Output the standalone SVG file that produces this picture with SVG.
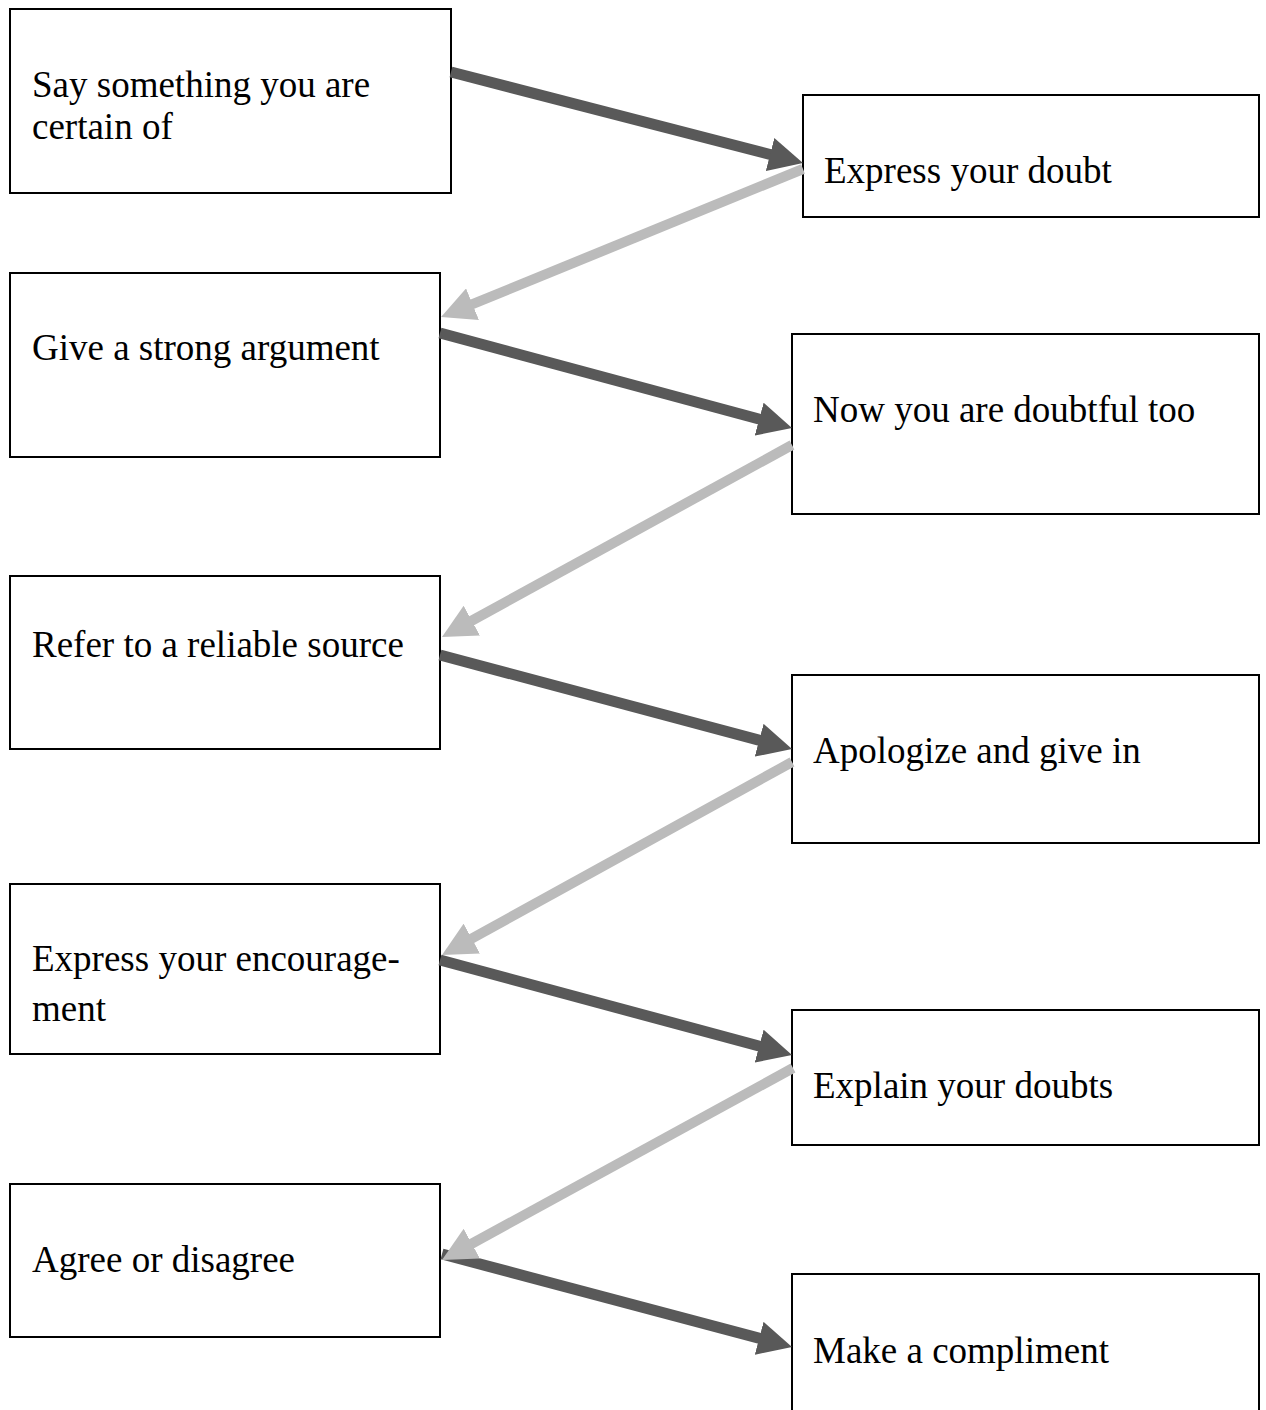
<svg xmlns="http://www.w3.org/2000/svg" width="1266" height="1410" viewBox="0 0 1266 1410">
<style>
  .box { fill: #ffffff; stroke: #000000; stroke-width: 2; }
  .lbl { font-family: "Liberation Serif", "Times New Roman", serif; font-size: 37px; fill: #000000; }
  .dark { stroke: #595959; stroke-width: 11; fill: none; marker-end: url(#headDark); }
  .light { stroke: #bbbbbb; stroke-width: 10; fill: none; marker-end: url(#headLight); }
</style>
<defs>
  <marker id="headDark" markerUnits="userSpaceOnUse" viewBox="0 0 34 34" markerWidth="34" markerHeight="34" refX="8" refY="17" orient="auto">
    <path d="M0,0 L34,17 L0,34 z" fill="#595959"/>
  </marker>
  <marker id="headLight" markerUnits="userSpaceOnUse" viewBox="0 0 34 34" markerWidth="34" markerHeight="34" refX="8" refY="17" orient="auto">
    <path d="M0,0 L34,17 L0,34 z" fill="#bbbbbb"/>
  </marker>
</defs>
<rect width="1266" height="1410" fill="#ffffff"/>

<g id="n1"><rect class="box" x="10" y="9" width="441" height="184"/><text class="lbl" x="32" y="97">Say something you are</text><text class="lbl" x="32" y="139">certain of</text></g>
<g id="n2"><rect class="box" x="803" y="95" width="456" height="122"/><text class="lbl" x="824" y="183">Express your doubt</text></g>
<g id="n3"><rect class="box" x="10" y="273" width="430" height="184"/><text class="lbl" x="32" y="360">Give a strong argument</text></g>
<g id="n4"><rect class="box" x="792" y="334" width="467" height="180"/><text class="lbl" x="813" y="422">Now you are doubtful too</text></g>
<g id="n5"><rect class="box" x="10" y="576" width="430" height="173"/><text class="lbl" x="32" y="657">Refer to a reliable source</text></g>
<g id="n6"><rect class="box" x="792" y="675" width="467" height="168"/><text class="lbl" x="813" y="763">Apologize and give in</text></g>
<g id="n7"><rect class="box" x="10" y="884" width="430" height="170"/><text class="lbl" x="32" y="971">Express your encourage-</text><text class="lbl" x="32" y="1021">ment</text></g>
<g id="n8"><rect class="box" x="792" y="1010" width="467" height="135"/><text class="lbl" x="813" y="1098">Explain your doubts</text></g>
<g id="n9"><rect class="box" x="10" y="1184" width="430" height="153"/><text class="lbl" x="32" y="1272">Agree or disagree</text></g>
<g id="n10"><rect class="box" x="792" y="1274" width="467" height="160"/><text class="lbl" x="813" y="1363">Make a compliment</text></g>

<g id="connectors">
  <line class="dark" x1="451" y1="72" x2="777.8" y2="156.5"/>
  <line class="dark" x1="440" y1="333" x2="766.9" y2="421.2"/>
  <line class="dark" x1="440" y1="655" x2="766.9" y2="742.3"/>
  <line class="dark" x1="440" y1="960" x2="766.9" y2="1048.2"/>
  <line class="dark" x1="442" y1="1254" x2="766.9" y2="1340.3"/>
  <line class="light" x1="803" y1="169" x2="465.1" y2="307.2"/>
  <line class="light" x1="792" y1="445" x2="464.8" y2="624.5"/>
  <line class="light" x1="792" y1="762" x2="464.8" y2="942.4"/>
  <line class="light" x1="793" y1="1068" x2="464.8" y2="1247.5"/>
</g>
</svg>
